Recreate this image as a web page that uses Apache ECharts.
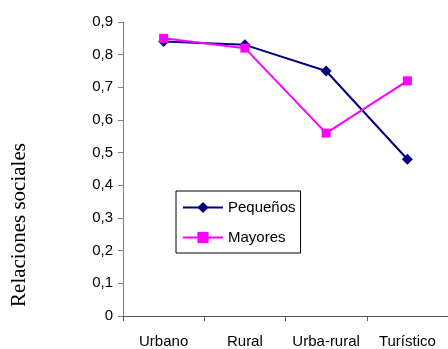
<!DOCTYPE html>
<html>
<head>
<meta charset="utf-8">
<script src="https://cdn.jsdelivr.net/npm/echarts@6/dist/echarts.min.js"></script>
<style>html,body{margin:0;padding:0;background:#fff;}#c{width:448px;height:349px;}</style>
</head>
<body>
<div id="c"></div>
<script>
var categories = ['Urbano', 'Rural', 'Urba-rural', 'Turístico'];
var pequenos = [0.84, 0.83, 0.75, 0.48];
var mayores = [0.85, 0.82, 0.56, 0.72];
var yTicks = [0, 0.1, 0.2, 0.3, 0.4, 0.5, 0.6, 0.7, 0.8, 0.9];
var yTitle = 'Relaciones sociales';

var chart = echarts.init(document.getElementById('c'));
chart.setOption({
  animation: false,
  grid: { left: 123, right: -3, top: 22, bottom: 32, containLabel: false },
  graphic: [{
    type: 'text', x: 19, y: 225, rotation: Math.PI / 2,
    style: { text: yTitle, font: '21px "Liberation Serif"', fill: '#000', align: 'center', verticalAlign: 'middle' }
  }],
  legend: {
    orient: 'vertical', left: 176, top: 191,
    borderColor: '#000', borderWidth: 1,
    padding: [9, 5, 8, 6], itemGap: 15,
    itemWidth: 40, itemHeight: 14,
    textStyle: { fontFamily: 'Liberation Sans', fontSize: 15, color: '#000' },
    data: ['Pequeños', 'Mayores']
  },
  xAxis: {
    type: 'category', data: categories, boundaryGap: true,
    axisLine: { lineStyle: { color: '#555', width: 1 } },
    axisTick: { show: true, length: 5, interval: 0, lineStyle: { color: '#555' } },
    axisLabel: { fontFamily: 'Liberation Sans', fontSize: 15, color: '#000', margin: 18, interval: 0, hideOverlap: false }
  },
  yAxis: {
    type: 'value', min: 0, max: 0.9, interval: 0.1,
    splitLine: { show: false },
    axisLine: { show: true, lineStyle: { color: '#808080', width: 1 } },
    axisTick: { show: true, inside: false, length: 5, lineStyle: { color: '#808080' } },
    axisLabel: {
      fontFamily: 'Liberation Sans', fontSize: 15, color: '#000', margin: 10,
      formatter: function (v) {
        var t = yTicks.find(function (x) { return Math.abs(x - v) < 1e-9; });
        if (t === undefined) return '';
        return t === 0 ? '0' : String(t.toFixed(1)).replace('.', ',');
      }
    }
  },
  series: [
    {
      name: 'Pequeños', type: 'line', data: pequenos,
      symbol: 'diamond', symbolSize: 11,
      lineStyle: { color: '#000080', width: 2 },
      itemStyle: { color: '#000080' }
    },
    {
      name: 'Mayores', type: 'line', data: mayores,
      symbol: 'rect', symbolSize: 9,
      lineStyle: { color: '#FF00FF', width: 2 },
      itemStyle: { color: '#FF00FF' }
    }
  ]
});
</script>
</body>
</html>
